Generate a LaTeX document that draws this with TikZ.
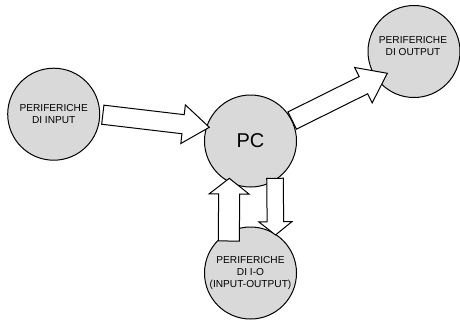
\documentclass[tikz,border=0pt]{standalone}
\usepackage{fontspec}
\setmainfont{Liberation Sans}
\usepackage{tikz}
\usetikzlibrary{arrows.meta,calc,positioning,shapes}

% hollow block arrow: #1 half shaft, #2 half head, #3 head length, #4 tail, #5 tip
\newcommand{\blockarrow}[5]{%
  \coordinate (hb) at ($(#5)!#3!(#4)$);
  \draw[blockarrow] ($(#4)!#1!90:(#5)$) -- ($(hb)!#1!90:(#5)$) -- ($(hb)!#2!90:(#5)$)
    -- (#5) -- ($(hb)!#2!-90:(#5)$) -- ($(hb)!#1!-90:(#5)$) -- ($(#4)!#1!-90:(#5)$) -- cycle;}

\begin{document}
\begin{tikzpicture}[x=0.75pt,y=-0.75pt,
  unit/.style={draw,circle,fill=black!15,line width=0.75pt,minimum size=69pt,inner sep=0pt,
    align=center,font=\fontsize{7.6}{8.8}\selectfont},
  blockarrow/.style={draw,fill=white,line width=0.75pt,line join=miter}]
\useasboundingbox (0,0) rectangle (460,322);
\node[unit] (IN) at (53.7,114.2) {PERIFERICHE\\DI INPUT};
\node[unit,font=\fontsize{15}{18}\selectfont] (PC) at (250.5,141) {PC};
\node[unit] (OUT) at (414,51.5) {};
\node[font=\fontsize{7.6}{8.8}\selectfont,align=center] (OUTt) at (413,45.7) {PERIFERICHE\\DI OUTPUT};
\node[unit] (IO) at (250.5,273) {PERIFERICHE\\DI I-O\\(INPUT-OUTPUT)};
% arrow ends
\coordinate (in-s) at (102.8,114.7);
\coordinate (in-e) at (209.3,127.3);
\coordinate (out-s) at (292.2,120.5);
\coordinate (out-e) at (387.3,73.3);
\coordinate (up-s) at (228.8,241);
\coordinate (up-e) at (229.3,178.3);
\coordinate (dn-s) at (275,178.3);
\coordinate (dn-e) at (275.5,235);
\blockarrow{7.2pt}{14.6pt}{19.8pt}{in-s}{in-e}
\blockarrow{7.2pt}{14.8pt}{20pt}{out-s}{out-e}
\blockarrow{7.9pt}{15pt}{11.8pt}{up-s}{up-e}
\blockarrow{6.2pt}{12.5pt}{10pt}{dn-s}{dn-e}
\end{tikzpicture}
\end{document}
